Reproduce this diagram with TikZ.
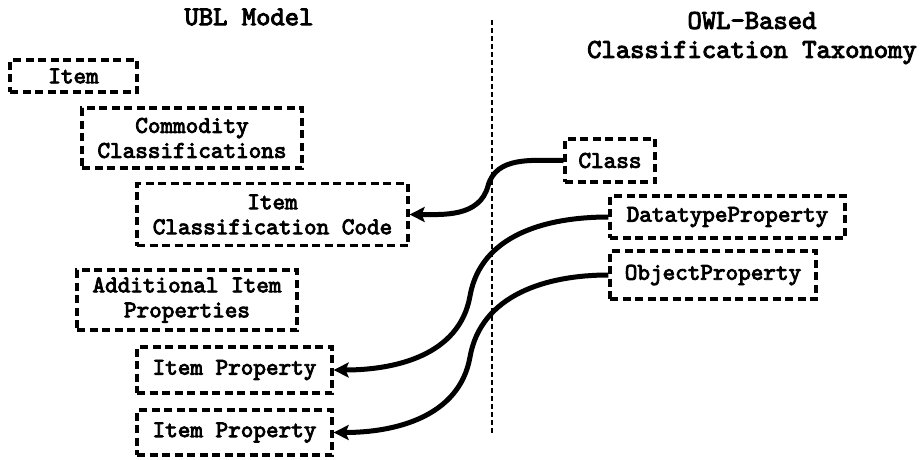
\documentclass[tikz,border=0pt]{standalone}
\usepackage{fontspec}
\setmainfont{lmmono10-regular.otf}[AutoFakeBold=3.5]
\usetikzlibrary{arrows.meta}
\tikzset{
  box/.style={draw, line width=3.3pt, dash pattern=on 8pt off 4.5pt,
    inner sep=0pt, align=center, font=\fontsize{24}{25}\selectfont\bfseries},
  title/.style={align=center, font=\fontsize{27.3}{29}\selectfont\bfseries},
  conn/.style={line width=5pt, -{Stealth[length=15pt,width=15pt,inset=3pt]}},
  divider/.style={line width=1.8pt, dash pattern=on 5pt off 3pt}
}
\begin{document}
\begin{tikzpicture}[x=1pt, y=-1pt]
\useasboundingbox (0,0) rectangle (920,459);

% headings
\node[title] (ubl) at (249,17) {UBL Model};
\node[title] (owl) at (752,38) {OWL-Based\\Classification Taxonomy};

% separator between the two models
\coordinate (sepTop) at (492,20);
\coordinate (sepBot) at (492,433);
\draw[divider] (sepTop) -- (sepBot);

% UBL model elements
\node[box, minimum width=127pt, minimum height=32pt] (item) at (73.5,76) {Item};
\node[box, minimum width=220pt, minimum height=60pt] (comm) at (192,138) {Commodity\\Classifications};
\node[box, minimum width=271pt, minimum height=62pt] (icc) at (272.5,214.5) {Item\\Classification Code};
\node[box, minimum width=220pt, minimum height=60pt] (aip) at (187,300) {Additional Item\\Properties};
\node[box, minimum width=195pt, minimum height=46pt] (ip1) at (234.5,370) {Item Property};
\node[box, minimum width=195pt, minimum height=45pt] (ip2) at (234.5,432.5) {Item Property};

% OWL taxonomy elements
\node[box, minimum width=90pt, minimum height=43pt] (class) at (610,160.5) {Class};
\node[box, minimum width=235pt, minimum height=42pt] (dtp) at (727.5,217) {DatatypeProperty};
\node[box, minimum width=206pt, minimum height=48pt] (op) at (713,275) {ObjectProperty};

% bend points of the mapping connectors
\coordinate (b1) at (488,186);
\coordinate (b2) at (470,296);
\coordinate (b3) at (470,357);

% mappings
\draw[conn] (class.west) to[out=180,in=75] (b1) to[out=255,in=0] (icc.east);
\draw[conn] (dtp.west) to[out=180,in=80] (b2) to[out=260,in=0] (ip1.east);
\draw[conn] (op.west) to[out=180,in=80] (b3) to[out=260,in=0] (ip2.east);
\end{tikzpicture}
\end{document}
